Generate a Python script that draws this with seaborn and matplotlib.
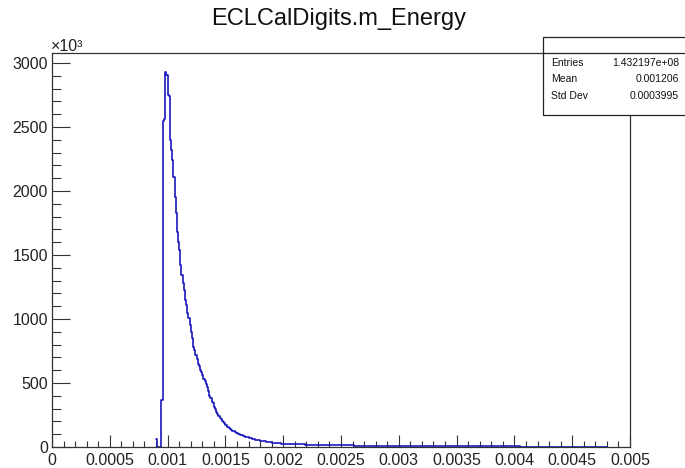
import numpy as np
import pandas as pd
import matplotlib
matplotlib.use("Agg")
import matplotlib.pyplot as plt
import seaborn as sns
from matplotlib.ticker import MultipleLocator
from matplotlib.patches import Rectangle
from matplotlib.lines import Line2D

# ---------------- data ----------------
title = "ECLCalDigits.m_Energy"
bin_width = 0.00001
first_bin_low = 0.00090
# entries per bin, in units of 10^3 (axis shows x10^3); bins start at 0.00090
counts_k = [
    # 0.00090 - 0.00099
    60, 0, 0, 0, 370, 370, 2550, 2560, 2930, 2910,
    # 0.00100 - 0.00109
    2750, 2740, 2400, 2320, 2240, 2110, 1950, 1830, 1680, 1600,
    # 0.00110 - 0.00119
    1540, 1420, 1340, 1280, 1230, 1150, 1110, 1050, 1010, 950,
    # 0.00120 - 0.00129
    900, 850, 780, 755, 720, 690, 650, 630, 600, 585,
    # 0.00130 - 0.00139
    560, 530, 515, 490, 470, 440, 400, 380, 355, 340,
    # 0.00140 - 0.00149
    315, 300, 275, 258, 242, 230, 215, 205, 195, 184,
    # 0.00150 - 0.00159
    175, 160, 153, 146, 140, 133, 127, 122, 117, 113,
    # 0.00160 - 0.00169
    108, 103, 99, 95, 91, 88, 85, 81, 78, 75,
    # 0.00170 - 0.00179
    72, 69, 67, 64, 62, 60, 58, 56, 54, 52,
    # 0.00180 - 0.00189
    50, 48, 46, 45, 43, 41, 40, 38, 37, 36,
    # 0.00190 - 0.00199
    35, 34, 33, 32, 31, 30, 29, 28, 27, 26,
    # 0.00200 - 0.00219
    26, 25, 25, 24, 24, 24, 23, 23, 23, 22, 22, 22, 21, 21, 21, 20, 20, 20, 20, 19,
    # 0.00220 - 0.00239
    19, 19, 19, 18, 18, 18, 18, 17, 17, 17, 17, 16, 16, 16, 16, 16, 15, 15, 15, 15,
    # 0.00240 - 0.00259
    15, 14, 14, 14, 14, 14, 14, 13, 13, 13, 13, 13, 13, 13, 12, 12, 12, 12, 12, 12,
    # 0.00260 - 0.00279
    12, 11, 11, 11, 11, 11, 11, 11, 10, 10, 10, 10, 10, 10, 10, 10, 10, 9, 9, 9,
    # 0.00280 - 0.00299
    9, 9, 9, 9, 9, 9, 9, 9, 8, 8, 8, 8, 8, 8, 8, 8, 8, 8, 8, 8,
    # 0.00300 - 0.00319
    8, 8, 8, 7, 7, 7, 7, 7, 7, 7, 7, 7, 7, 7, 7, 7, 7, 7, 6, 6,
    # 0.00320 - 0.00339
    6, 6, 6, 6, 6, 6, 6, 6, 6, 6, 6, 6, 6, 6, 6, 6, 6, 6, 5, 5,
    # 0.00340 - 0.00359
    5, 5, 5, 5, 5, 5, 5, 5, 5, 5, 5, 5, 5, 5, 5, 5, 5, 5, 5, 5,
    # 0.00360 - 0.00379
    5, 5, 5, 5, 5, 5, 4, 4, 4, 4, 4, 4, 4, 4, 4, 4, 4, 4, 4, 4,
    # 0.00380 - 0.00399
    4, 4, 4, 4, 4, 4, 4, 4, 4, 4, 4, 4, 4, 4, 4, 4, 4, 4, 4, 4,
    # 0.00400 - 0.00419
    4, 4, 4, 4, 4, 3, 3, 3, 3, 3, 3, 3, 3, 3, 3, 3, 3, 3, 3, 3,
    # 0.00420 - 0.00439
    3, 3, 3, 3, 2, 1, 0, 1, 0, 2, 0, 0, 1, 0, 1, 0, 0, 2, 0, 1,
    # 0.00440 - 0.00459
    0, 0, 1, 0, 0, 1, 0, 1, 0, 0, 0, 1, 0, 0, 1, 0, 0, 0, 1, 0,
    # 0.00460 - 0.00479
    0, 0, 1, 0, 0, 0, 0, 1, 0, 0, 0, 0, 0, 1, 0, 0, 0, 0, 0, 0,
]
x_ticks = [0, 0.0005, 0.001, 0.0015, 0.002, 0.0025, 0.003, 0.0035, 0.004, 0.0045, 0.005]
x_tick_labels = ["0", "0.0005", "0.001", "0.0015", "0.002", "0.0025",
                 "0.003", "0.0035", "0.004", "0.0045", "0.005"]
y_ticks = [0, 500, 1000, 1500, 2000, 2500, 3000]
y_tick_labels = ["0", "500", "1000", "1500", "2000", "2500", "3000"]
stats_labels = ["Entries", "Mean", "Std Dev"]
stats_values = ["1.432197e+08", "0.001206", "0.0003995"]

n = len(counts_k)
edges = first_bin_low + bin_width * np.arange(n + 1)
centers = (edges[:-1] + edges[1:]) / 2
df = pd.DataFrame({"energy": centers, "entries": counts_k})

# ---------------- style ----------------
sns.set_style("white")
plt.rcParams["font.family"] = ["Liberation Sans", "DejaVu Sans"]

W, H = 685, 468
fig = plt.figure(figsize=(W / 100, H / 100), dpi=100)
ax = fig.add_axes([52 / W, 1 - 447 / H, 578 / W, 394 / H])

sns.histplot(data=df, x="energy", weights="entries", bins=n,
             binrange=(float(edges[0]), float(edges[-1])),
             element="step", fill=False, color="#1818bb", linewidth=1.2, ax=ax)

ax.set_xlim(0, 0.005)
ax.set_ylim(0, 3078)
ax.set_xlabel("")
ax.set_ylabel("")
ax.set_xticks(x_ticks)
ax.set_xticklabels(x_tick_labels)
ax.xaxis.set_minor_locator(MultipleLocator(0.0001))
ax.set_yticks(y_ticks)
ax.set_yticklabels(y_tick_labels)
ax.yaxis.set_minor_locator(MultipleLocator(100))

fc = "#333333"
ax.tick_params(axis="x", which="major", direction="in", length=9, width=0.8,
               color=fc, labelsize=11.5, pad=4, labelcolor="#222222",
               top=False, bottom=True)
ax.tick_params(axis="x", which="minor", direction="in", length=4.5, width=0.8,
               color=fc, top=False, bottom=True)
ax.tick_params(axis="y", which="major", direction="in", length=13, width=0.8,
               color=fc, labelsize=11.5, pad=3, labelcolor="#222222",
               left=True, right=False)
ax.tick_params(axis="y", which="minor", direction="in", length=6.5, width=0.8,
               color=fc, left=True, right=False)
for s in ax.spines.values():
    s.set_visible(True)
    s.set_color(fc)
    s.set_linewidth(0.9)

# title
fig.text(339 / W, 1 - 19 / H, title, ha="center", va="center",
         fontsize=17, color="#111111")
# exponent label
fig.text(51 / W, 1 - 51 / H, "×10³", ha="left", va="baseline",
         fontsize=11.5, color="#222222")

# stats box
bx0, by_top, by_bot = 543, 37, 115
rect = Rectangle((bx0 / W, 1 - by_bot / H), (W + 10 - bx0) / W, (by_bot - by_top) / H,
                 transform=fig.transFigure, facecolor="white", edgecolor="#222222",
                 linewidth=0.9, zorder=10, clip_on=False)
fig.add_artist(rect)
fig.add_artist(Line2D([bx0 / W, 1.0], [1 - 53 / H, 1 - 53 / H],
                      transform=fig.transFigure, color="#222222",
                      linewidth=0.9, zorder=11))
row_y = [63, 79, 96]
for lab, val, yy in zip(stats_labels, stats_values, row_y):
    fig.text(551 / W, 1 - yy / H, lab, ha="left", va="center",
             fontsize=7.5, color="#111111", zorder=12)
    fig.text(679 / W, 1 - yy / H, val, ha="right", va="center",
             fontsize=7.5, color="#111111", zorder=12)

fig.savefig("out.png", dpi=100, facecolor="white")
